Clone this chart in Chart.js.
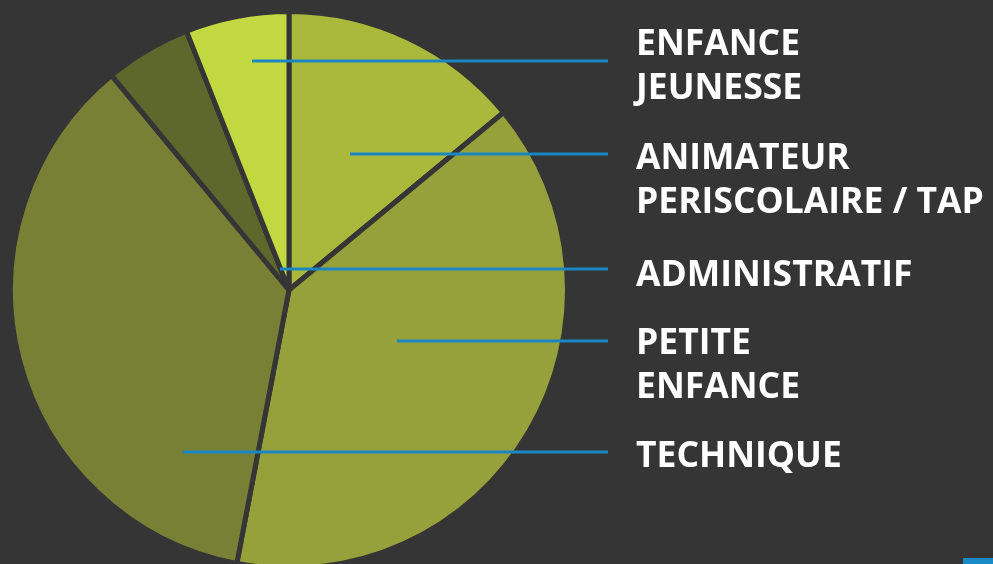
<!DOCTYPE html>
<html lang="fr">
<head>
<meta charset="UTF-8">
<title>Répartition des agents par secteur</title>
<script src="https://cdn.jsdelivr.net/npm/chart.js"></script>
<style>
  html, body { margin: 0; padding: 0; background: #353535; overflow: hidden; }
  .chart-box { position: relative; width: 993px; height: 580px; }
  .corner { position: absolute; left: 963px; top: 558px; width: 30px; height: 6px; background: #1a8ac6; }
</style>
</head>
<body>
<div class="chart-box"><canvas id="pieChart" width="993" height="580"></canvas></div>
<div class="corner"></div>
<script>
// slices, clockwise from 12 o'clock
const categories = ['ANIMATEUR PERISCOLAIRE / TAP', 'PETITE ENFANCE', 'TECHNIQUE', 'ADMINISTRATIF', 'ENFANCE JEUNESSE'];
const shares = [14, 39, 36, 5, 6];
const sliceColors = ['#aab93c', '#97a13b', '#788035', '#5e682c', '#c2d840'];

// labels on the right, top to bottom (index = slice)
const labelOrder = [4, 0, 3, 1, 2];
const labelLines = [
  ['ENFANCE', 'JEUNESSE'],
  ['ANIMATEUR', 'PERISCOLAIRE / TAP'],
  ['ADMINISTRATIF'],
  ['PETITE', 'ENFANCE'],
  ['TECHNIQUE']
];

// leader lines + text, drawn on top of the pie
const leaderLabels = {
  id: 'leaderLabels',
  afterDatasetsDraw(chart, args, opts) {
    const ctx = chart.ctx;
    const arcs = chart.getDatasetMeta(0).data;
    ctx.save();
    labelOrder.forEach((slice, i) => {
      const arc = arcs[slice];
      const lay = opts.layout[i];
      const y = arc.y + lay.dy;
      ctx.strokeStyle = opts.lineColor;
      ctx.lineWidth = 3;
      ctx.beginPath();
      ctx.moveTo(arc.x + lay.dx, y);
      ctx.lineTo(opts.lineEnd, y);
      ctx.stroke();

      ctx.fillStyle = '#ffffff';
      ctx.font = 'bold 35.5px "Open Sans"';
      ctx.textBaseline = 'alphabetic';
      labelLines[i].forEach((t, j) => {
        ctx.fillText(t, opts.textX, lay.base + j * 44);
      });
    });
    ctx.restore();
  }
};

new Chart(document.getElementById('pieChart'), {
  type: 'pie',
  data: {
    labels: categories,
    datasets: [{
      data: shares,
      backgroundColor: sliceColors,
      borderColor: '#353535',
      borderWidth: 5
    }]
  },
  options: {
    responsive: false,
    animation: false,
    layout: { padding: { left: 8, top: 9, right: 423, bottom: 9 } },
    plugins: {
      legend: { display: false },
      tooltip: { enabled: false },
      leaderLabels: {
        lineColor: '#1a87c4',
        lineEnd: 608,
        textX: 636,
        layout: [
          { dx: -37, dy: -229, base: 55 },
          { dx: 61, dy: -136, base: 169 },
          { dx: -9, dy: -21, base: 286 },
          { dx: 108, dy: 51, base: 354 },
          { dx: -106, dy: 162, base: 467 }
        ]
      }
    }
  },
  plugins: [leaderLabels]
});
</script>
</body>
</html>
